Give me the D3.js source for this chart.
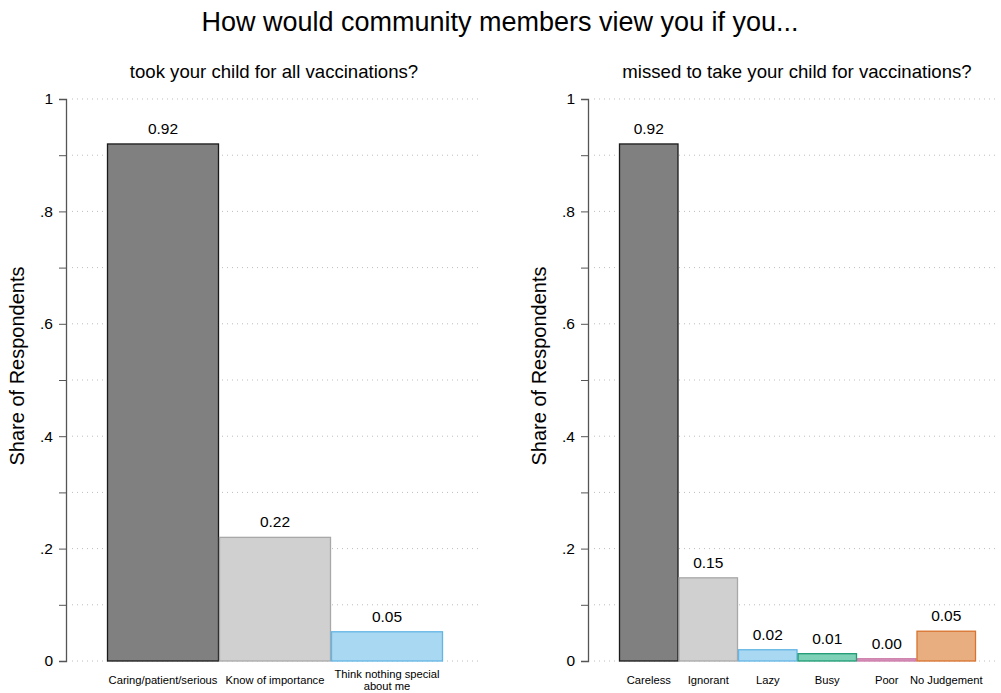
<!DOCTYPE html>
<html>
<head>
<meta charset="utf-8">
<script src="https://cdn.jsdelivr.net/npm/d3@7"></script>
<style>
  html, body { margin: 0; padding: 0; background: #fff; }
  svg { display: block; font-family: "Liberation Sans", Arial, Helvetica, sans-serif; }
</style>
</head>
<body>
<svg id="chart" width="1001" height="693"></svg>
<script>
// Responses when the child was taken for all vaccinations
const leftCategories = ["Caring/patient/serious", "Know of importance", "Think nothing special\nabout me"];
const leftValues = [0.92, 0.22, 0.052];

// Responses when vaccinations were missed
const rightCategories = ["Careless", "Ignorant", "Lazy", "Busy", "Poor", "No Judgement"];
const rightValues = [0.92, 0.148, 0.02, 0.013, 0.004, 0.053];

const yTicks = [0, 0.2, 0.4, 0.6, 0.8, 1];
const yTickLabels = ["0", ".2", ".4", ".6", ".8", "1"];
const yMinorTicks = [0.1, 0.3, 0.5, 0.7, 0.9];

const mainTitle = "How would community members view you if you...";
const leftTitle = "took your child for all vaccinations?";
const rightTitle = "missed to take your child for vaccinations?";
const yTitle = "Share of Respondents";

// Bar styles: fill / outline per category position
const palette = [
  { fill: "#808080", stroke: "#1a1a1a" },
  { fill: "#d0d0d0", stroke: "#a8a8a8" },
  { fill: "#a8d8f2", stroke: "#63b5e5" },
  { fill: "#7ed0b6", stroke: "#1f9a74" },
  { fill: "#d69bc0", stroke: "#cc79a7" },
  { fill: "#e8ae80", stroke: "#d8722f" }
];

const svg = d3.select("#chart");

svg.append("text")
  .attr("x", 500).attr("y", 31)
  .attr("text-anchor", "middle")
  .attr("font-size", 27)
  .attr("fill", "#000")
  .text(mainTitle);

function panel(cfg) {
  const g = svg.append("g");
  const y = d3.scaleLinear().domain([0, 1]).range([661, 99]);
  const x = d3.scaleBand().domain(cfg.categories)
    .range([cfg.barLeft, cfg.barRight]).paddingInner(0).paddingOuter(0);

  // Dotted gridlines every 0.1
  const gridVals = d3.range(0, 11).map(d => d / 10);
  g.selectAll("line.grid").data(gridVals).enter().append("line")
    .attr("class", "grid")
    .attr("x1", cfg.axisX + 6).attr("x2", cfg.plotRight)
    .attr("y1", d => y(d)).attr("y2", d => y(d))
    .attr("stroke", "#bdbdbd").attr("stroke-width", 1)
    .attr("stroke-dasharray", "1,4");

  // Bars
  g.selectAll("rect.bar").data(cfg.values).enter().append("rect")
    .attr("class", "bar")
    .attr("x", (d, i) => x(cfg.categories[i]) + 0.5)
    .attr("width", x.bandwidth() - 1)
    .attr("y", d => y(d))
    .attr("height", d => y(0) - y(d))
    .attr("fill", (d, i) => palette[i].fill)
    .attr("stroke", (d, i) => palette[i].stroke)
    .attr("stroke-width", 1.3);

  // Value labels
  g.selectAll("text.val").data(cfg.values).enter().append("text")
    .attr("class", "val")
    .attr("x", (d, i) => x(cfg.categories[i]) + x.bandwidth() / 2)
    .attr("y", d => y(d) - 10)
    .attr("text-anchor", "middle")
    .attr("font-size", 15.5)
    .attr("fill", "#000")
    .text(d => d3.format(".2f")(d));

  // Y axis with major (labelled) and minor ticks
  const axis = d3.axisLeft(y).tickValues(yTicks)
    .tickFormat((d, i) => yTickLabels[i]).tickSize(7).tickPadding(6);
  const ag = g.append("g").attr("transform", `translate(${cfg.axisX},0)`).call(axis);
  ag.select(".domain").attr("stroke", "#555").attr("stroke-width", 1.3);
  ag.selectAll(".tick line").attr("stroke", "#555");
  ag.selectAll(".tick text").attr("font-size", 15.5).attr("fill", "#000")
    .attr("font-family", "Liberation Sans, Arial, sans-serif");
  const minor = d3.axisLeft(y).tickValues(yMinorTicks).tickFormat("").tickSize(7);
  const mg = g.append("g").attr("transform", `translate(${cfg.axisX},0)`).call(minor);
  mg.select(".domain").remove();
  mg.selectAll(".tick line").attr("stroke", "#555");

  // Category labels (may wrap onto two lines)
  const cats = g.selectAll("text.cat").data(cfg.categories).enter().append("text")
    .attr("class", "cat")
    .attr("text-anchor", "middle")
    .attr("font-size", 11.2)
    .attr("fill", "#000")
    .attr("transform", d => `translate(${x(d) + x.bandwidth() / 2},684)`);
  cats.each(function(d) {
    const lines = d.split("\n");
    const t = d3.select(this);
    lines.forEach((ln, k) => {
      t.append("tspan").attr("x", 0)
        .attr("dy", k === 0 ? (lines.length > 1 ? -6 : 0) : 12)
        .text(ln);
    });
  });

  // Panel subtitle
  svg.append("text")
    .attr("x", cfg.titleX).attr("y", 78)
    .attr("text-anchor", "middle")
    .attr("font-size", 18.6)
    .attr("fill", "#000")
    .text(cfg.title);

  // Y axis title
  svg.append("text")
    .attr("transform", `translate(${cfg.axisX - 42},366) rotate(-90)`)
    .attr("text-anchor", "middle")
    .attr("font-size", 20)
    .attr("fill", "#000")
    .text(yTitle);
}

panel({
  categories: leftCategories, values: leftValues,
  axisX: 66, barLeft: 107, barRight: 443, plotRight: 482,
  titleX: 274, title: leftTitle
});

panel({
  categories: rightCategories, values: rightValues,
  axisX: 588, barLeft: 619, barRight: 976, plotRight: 997,
  titleX: 797, title: rightTitle
});
</script>
</body>
</html>
